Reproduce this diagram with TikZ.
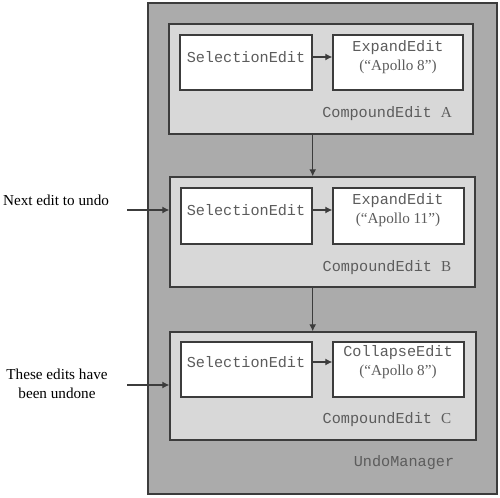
\documentclass[tikz,border=0pt]{standalone}
\usepackage{fontspec}
\setmainfont{Liberation Serif}
\setmonofont{Liberation Mono}
\usetikzlibrary{arrows.meta,fit}
\definecolor{mgrgray}{HTML}{ABABAB}
\definecolor{cmpgray}{HTML}{D8D8D8}
\definecolor{linegray}{HTML}{3C3C3C}
\definecolor{txtgray}{HTML}{5C5C5C}
\tikzset{
  box/.style={draw=linegray, line width=1pt, inner sep=0pt},
  manager/.style={box, fill=mgrgray},
  compound/.style={box, fill=cmpgray},
  editbox/.style={box, fill=white},
  code/.style={font=\fontsize{10.8}{13.5}\selectfont\ttfamily, text=txtgray, align=center, inner sep=0pt},
  plain/.style={font=\fontsize{10.8}{13.5}\selectfont, align=center, inner sep=0pt},
  link/.style={-{Latex[length=5pt,width=5pt]}, line width=0.8pt, draw=linegray},
}
\begin{document}
\begin{tikzpicture}[x=0.025cm,y=-0.025cm]
\useasboundingbox (0,0) rectangle (500,498);
% the manager
\node[manager, fit={(148,3) (497,494)}] (mgr) {};
\node[code] (mgrt) at (404,463) {UndoManager};
% compound edits
\node[compound, fit={(169,24) (473,134)}] (cmpA) {};
\node[compound, fit={(170,177) (475,287)}] (cmpB) {};
\node[compound, fit={(170,332) (476,440)}] (cmpC) {};
\node[code] (cmpAt) at (387,114) {CompoundEdit {\rmfamily A}};
\node[code] (cmpBt) at (387,268) {CompoundEdit {\rmfamily B}};
\node[code] (cmpCt) at (387,420) {CompoundEdit {\rmfamily C}};
% edits in A
\node[editbox, fit={(180,35) (312,90)}] (selA) {};
\node[editbox, fit={(333,35) (463,90)}] (expA) {};
\node[code] (selAt) at (246,57) {SelectionEdit};
\node[code] (expAt) at (398,57) {ExpandEdit\\{\rmfamily (“Apollo 8”)}};
% edits in B
\node[editbox, fit={(181,188) (312,244)}] (selB) {};
\node[editbox, fit={(333,188) (464,244)}] (expB) {};
\node[code] (selBt) at (246,210) {SelectionEdit};
\node[code] (expBt) at (398,210) {ExpandEdit\\{\rmfamily (“Apollo 11”)}};
% edits in C
\node[editbox, fit={(181,342) (312,397)}] (selC) {};
\node[editbox, fit={(333,342) (464,397)}] (colC) {};
\node[code] (selCt) at (246,362) {SelectionEdit};
\node[code] (colCt) at (398,362) {CollapseEdit\\{\rmfamily (“Apollo 8”)}};
% links
\draw[link] (selA.east |- selAt) -- (expA.west |- selAt);
\draw[link] (selB.east |- selBt) -- (expB.west |- selBt);
\draw[link] (selC.east |- selCt) -- (colC.west |- selCt);
\draw[link] (cmpA.south -| selA.east) -- (cmpB.north -| selA.east);
\draw[link] (cmpB.south -| selA.east) -- (cmpC.north -| selA.east);
% pointers from outside
\node[plain] (next) at (56,200) {Next edit to undo};
\node[plain] (undone) at (57,384) {These edits have\\been undone};
\coordinate (nextTail) at (127,210);
\coordinate (undoneTail) at (127,385);
\draw[link] (nextTail) -- (nextTail -| cmpB.west);
\draw[link] (undoneTail) -- (undoneTail -| cmpC.west);
\end{tikzpicture}
\end{document}
